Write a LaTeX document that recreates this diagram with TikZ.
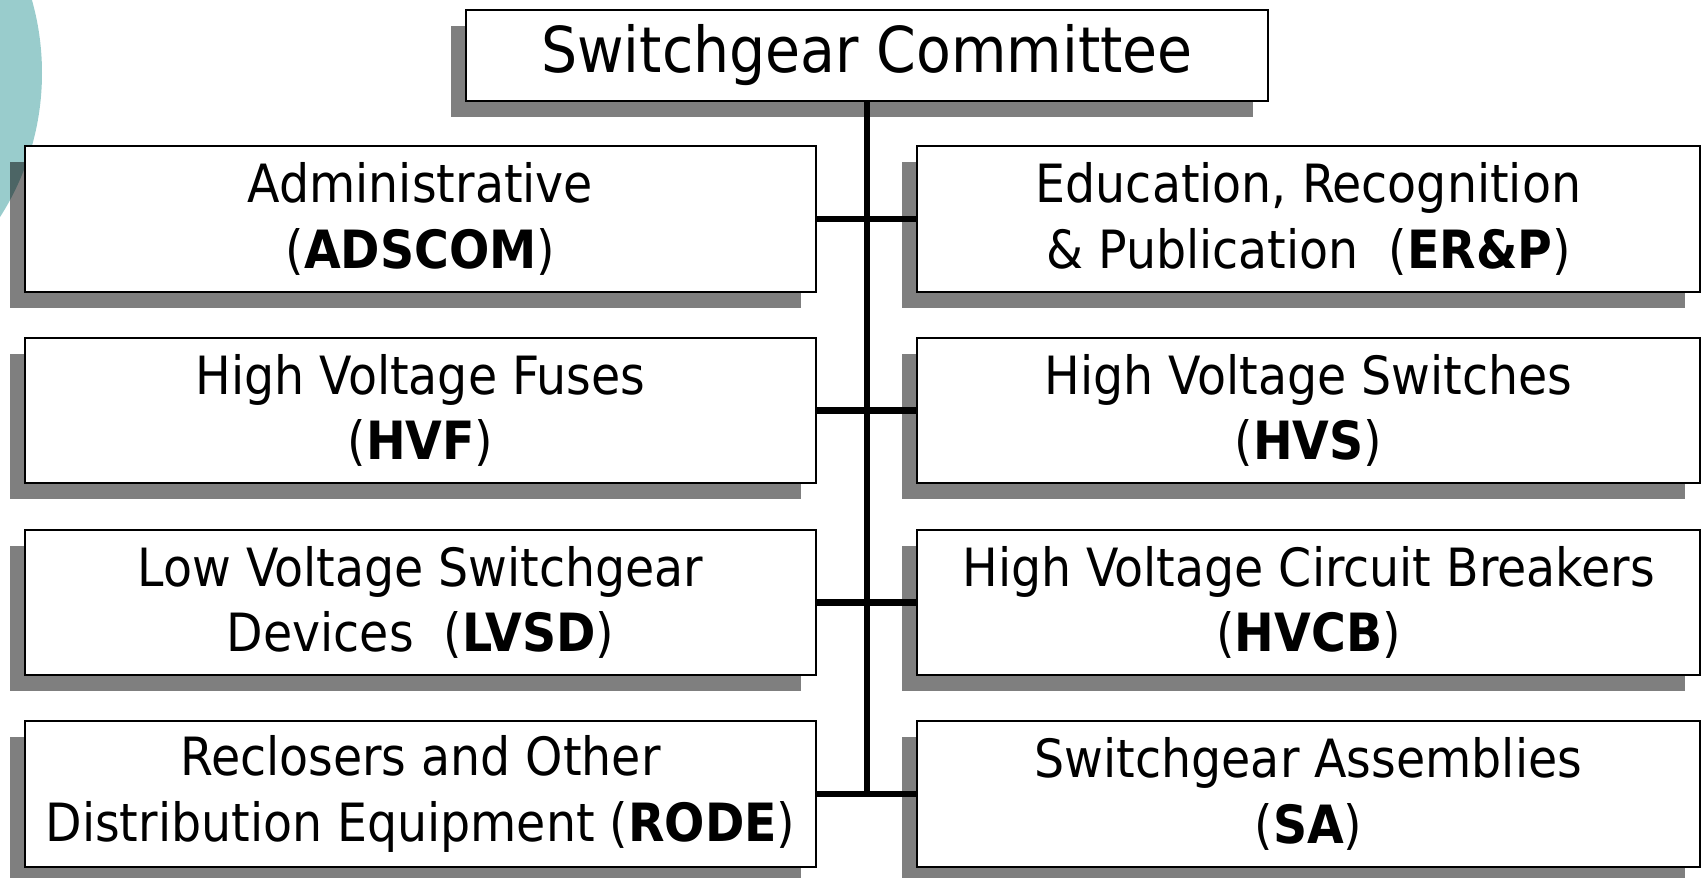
\documentclass[tikz,border=0pt]{standalone}
\usepackage{fontspec}
\setmainfont{DejaVu Sans Condensed}
\usetikzlibrary{shadows}
\definecolor{myteal}{RGB}{153, 204, 204}
\tikzset{>=latex}
\tikzset{
  unitbox/.style = {draw, line width = 0.6, fill = white, align = center, inner sep = 0,
    minimum height = 1.455cm, font = {\fontsize{15}{18.7}\selectfont},
    drop shadow = {shadow xshift = -0.15cm, shadow yshift = -0.16cm, opacity = 0.5, fill = black}},
  leftbox/.style = {unitbox, minimum width = 7.91cm},
  rightbox/.style = {unitbox, minimum width = 7.83cm},
  link/.style = {line width = 1.9}
}

\begin{document}
\begin{tikzpicture}
\clip (0, 0) rectangle (17.06, -8.77);
\fill[myteal] (-2.26, -0.73) circle [radius = 2.68];
\node[unitbox, minimum width = 8.02cm, minimum height = 0.91cm, font = {\fontsize{18}{22}\selectfont}] (sgc) at (8.67, -0.555) {Switchgear Committee};
\node[leftbox] (adscom) at (4.205, -2.19) {Administrative\\(\textbf{ADSCOM})};
\node[rightbox] (erp) at (13.085, -2.19) {Education, Recognition\\\&~Publication\ \ (\textbf{ER\&P})};
\node[leftbox] (hvf) at (4.205, -4.105) {High Voltage Fuses\\(\textbf{HVF})};
\node[rightbox] (hvs) at (13.085, -4.105) {High Voltage Switches\\(\textbf{HVS})};
\node[leftbox] (lvsd) at (4.205, -6.025) {Low Voltage Switchgear\\Devices\ \ (\textbf{LVSD})};
\node[rightbox] (hvcb) at (13.085, -6.025) {High Voltage Circuit Breakers\\(\textbf{HVCB})};
\node[leftbox] (rode) at (4.205, -7.94) {Reclosers and Other\\Distribution Equipment (\textbf{RODE})};
\node[rightbox] (sa) at (13.085, -7.94) {Switchgear Assemblies\\(\textbf{SA})};
\draw[link] (sgc.south) -- (sgc.south |- rode.east);
\foreach \l/\r in {adscom/erp, hvf/hvs, lvsd/hvcb, rode/sa}
  \draw[link] (\l.east) -- (\r.west);
\end{tikzpicture}
\end{document}
